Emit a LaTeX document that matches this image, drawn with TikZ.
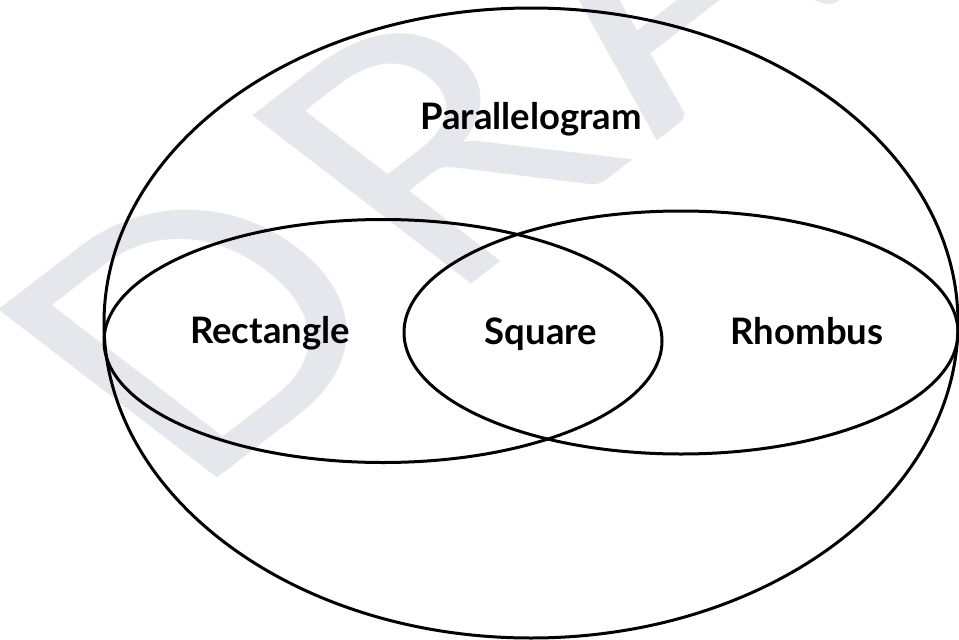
\documentclass[tikz,border=0pt]{standalone}
\usepackage{fontspec}
\setmainfont{Lato}
\newfontfamily\markfont[LetterSpace=7]{Lato}
\definecolor{wmgray}{RGB}{230,231,236}
\tikzset{
  setring/.style={draw=black, line width=3pt},
  setlabel/.style={font=\fontsize{36.5}{42}\selectfont\bfseries, anchor=base, inner sep=0pt},
  watermark/.style={font=\markfont\fontsize{332}{360}\selectfont, text=wmgray, anchor=base west, inner sep=0pt, rotate=45, transform shape}
}
\begin{document}
\begin{tikzpicture}[x=1pt,y=-1pt]
\useasboundingbox (0,0) rectangle (959,640);
\clip (0,0) rectangle (959,640);
\fill[white] (0,0) rectangle (959,640);
% draft mark behind everything
\begin{scope}[xscale=1.3]
  \node[watermark] (draft) at (146,500) {DRAFT};
\end{scope}
% the three sets
\draw[setring] (531,323) ellipse [x radius=427pt, y radius=315pt];
\draw[setring] (383,341) ellipse [x radius=279pt, y radius=121.5pt];
\draw[setring] (681,332.5) ellipse [x radius=277pt, y radius=121.5pt];
\node[setlabel] (para) at (531,129) {Parallelogram};
\node[setlabel] (rect) at (270,343) {Rectangle};
\node[setlabel] (sq) at (541,344) {Square};
\node[setlabel] (rhomb) at (807,344) {Rhombus};
\end{tikzpicture}
\end{document}
